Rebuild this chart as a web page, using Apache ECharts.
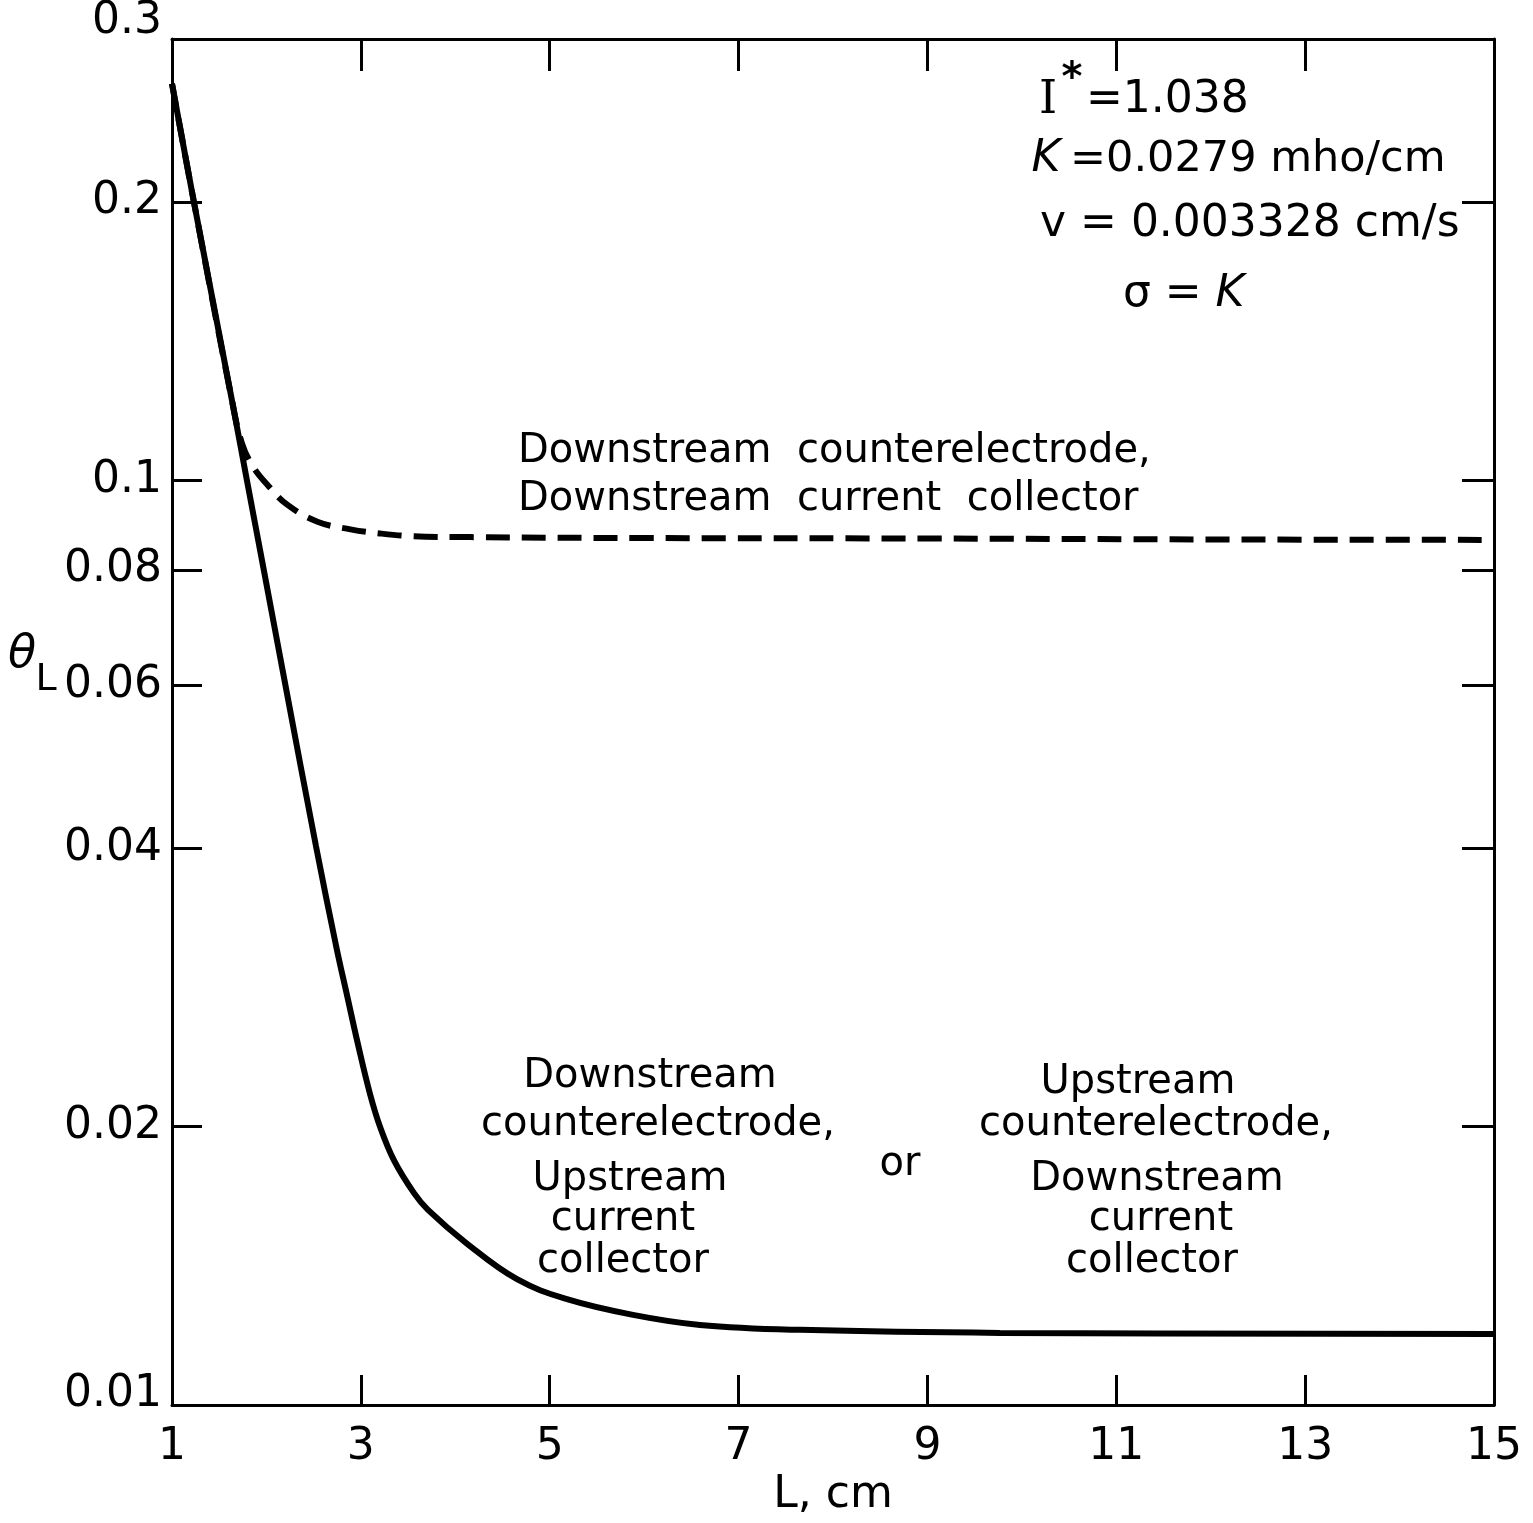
<!DOCTYPE html>
<html>
<head>
<meta charset="utf-8">
<script src="https://cdn.jsdelivr.net/npm/echarts@6/dist/echarts.min.js"></script>
<style>
  html, body { margin: 0; padding: 0; background: #ffffff; }
  #chart { width: 1533px; height: 1523px; }
</style>
</head>
<body>
<div id="chart"></div>
<script>
// Electrode length L (cm) and theta_L for the two configurations
const lengthSolid = [1.000, 1.233, 1.635, 1.794, 1.974, 2.207, 2.525, 2.737, 2.853, 2.970, 3.097, 3.203, 3.351, 3.563, 3.711, 4.113, 4.654, 5.183, 5.882, 6.591, 7.650, 9.768, 15];
const thetaSolid  = [0.2684, 0.1997, 0.1220, 0.0999, 0.0798, 0.0596, 0.0402, 0.0314, 0.02776, 0.02454, 0.02170, 0.02000, 0.01839, 0.01695, 0.01626, 0.01498, 0.01368, 0.01302, 0.01252, 0.01221, 0.01206, 0.01197, 0.01194];

const lengthDashed = [1.000, 1.233, 1.635, 1.74, 1.86, 2.01, 2.22, 2.54, 2.89, 3.20, 3.55, 4.16, 6, 9, 12, 15];
const thetaDashed  = [0.2684, 0.1997, 0.1220, 0.1097, 0.1034, 0.0989, 0.0941, 0.0902, 0.0885, 0.0876, 0.0870, 0.0868, 0.0866, 0.0865, 0.0863, 0.0862];

// Axis ticks and labels
const xLabelValues = [1, 3, 5, 7, 9, 11, 13, 15];
const xTickValues  = [3, 5, 7, 9, 11, 13];
const yLabelValues = [0.01, 0.02, 0.04, 0.06, 0.08, 0.1, 0.2, 0.3];
const yTickValues  = [0.02, 0.04, 0.06, 0.08, 0.1, 0.2];

const FONT = 'DejaVu Sans';
const INK = '#000000';

const chart = echarts.init(document.getElementById('chart'), null, { renderer: 'canvas' });

const frameLine = { show: true, onZero: false, lineStyle: { color: INK, width: 3 } };
const innerTick = (values, len) => ({
  show: true, inside: true, length: len, customValues: values,
  lineStyle: { color: INK, width: 3 }
});

function pairs(xs, ys) { return xs.map((x, i) => [x, ys[i]]); }

// centred text helper for the annotation blocks
function txt(text, x, y, size, font) {
  return {
    type: 'text', x: x, y: y, silent: true,
    style: {
      text: text, fill: INK,
      font: (font || '') + ' ' + size + 'px "' + FONT + '"',
      textAlign: 'center', textVerticalAlign: 'middle'
    }
  };
}
function ltxt(text, x, y, size, font) {
  const t = txt(text, x, y, size, font);
  t.style.textAlign = 'left';
  return t;
}

const option = {
  backgroundColor: '#ffffff',
  animation: false,
  grid: { left: 172, right: 39, top: 35, bottom: 109, containLabel: false },
  xAxis: [
    {
      type: 'value', position: 'bottom', min: 1, max: 15,
      axisLine: frameLine,
      axisTick: innerTick(xTickValues, 30),
      axisLabel: {
        customValues: xLabelValues, margin: 20,
        fontSize: 44, fontFamily: FONT, color: INK
      },
      splitLine: { show: false },
      name: 'L, cm', nameLocation: 'middle', nameGap: 62,
      nameTextStyle: { fontSize: 44, fontFamily: FONT, color: INK }
    },
    {
      type: 'value', position: 'top', min: 1, max: 15,
      axisLine: frameLine,
      axisTick: innerTick(xTickValues, 32),
      axisLabel: { show: false },
      splitLine: { show: false }
    }
  ],
  yAxis: [
    {
      type: 'log', logBase: 10, position: 'left', min: 0.01, max: 0.3,
      axisLine: frameLine,
      axisTick: innerTick(yTickValues, 30),
      minorTick: { show: false },
      axisLabel: {
        customValues: yLabelValues, margin: 10,
        fontSize: 44, fontFamily: FONT, color: INK,
        formatter: function (v) {
          const s = String(+Number(v).toPrecision(3));
          if (s === '0.3') return '{hi|' + s + '}';
          if (s === '0.01') return '{lo|' + s + '}';
          return s;
        },
        rich: {
          hi: { fontSize: 44, fontFamily: FONT, color: INK, padding: [0, 0, 34, 0] },
          lo: { fontSize: 44, fontFamily: FONT, color: INK, padding: [0, 0, 22, 0] }
        }
      },
      splitLine: { show: false }
    },
    {
      type: 'log', logBase: 10, position: 'right', min: 0.01, max: 0.3,
      axisLine: frameLine,
      axisTick: innerTick(yTickValues, 32),
      minorTick: { show: false },
      axisLabel: { show: false },
      splitLine: { show: false }
    }
  ],
  series: [
    {
      name: 'Downstream counterelectrode, upstream current collector',
      type: 'line', xAxisIndex: 0, yAxisIndex: 0,
      data: pairs(lengthSolid, thetaSolid),
      showSymbol: false, smooth: 0.4,
      lineStyle: { color: INK, width: 6 }
    },
    {
      name: 'Downstream counterelectrode, downstream current collector',
      type: 'line', xAxisIndex: 0, yAxisIndex: 0,
      data: pairs(lengthDashed, thetaDashed),
      showSymbol: false, smooth: 0.4,
      lineStyle: { color: INK, width: 6, type: [24, 12] }
    }
  ],
  graphic: [
    // y axis title: theta with subscript L
    txt('θ', 22, 655, 46, 'italic'),
    txt('L', 46, 680, 38),

    // parameter block
    { type: 'text', x: 1048, y: 101, silent: true,
      style: { text: 'I', fill: INK, font: '46px "DejaVu Serif"', textAlign: 'center', textVerticalAlign: 'middle' } },
    { type: 'text', x: 1072, y: 80, silent: true,
      style: { text: '*', fill: INK, font: 'bold 40px "' + FONT + '"', textAlign: 'center', textVerticalAlign: 'middle' } },
    ltxt('=1.038', 1086, 101, 44),

    txt('K', 1046, 160, 44, 'italic'),
    ltxt('=0.0279 mho/cm', 1070, 160, 43),

    ltxt('v = 0.003328 cm/s', 1040, 225, 44),

    ltxt('σ =', 1123, 295, 44),
    txt('K', 1230, 295, 44, 'italic'),

    // dashed curve label
    ltxt('Downstream  counterelectrode,', 518, 452, 40),
    ltxt('Downstream  current  collector', 518, 500, 40),

    // solid curve label, left block
    txt('Downstream', 650, 1077, 40),
    txt('counterelectrode,', 658, 1125, 40),
    txt('Upstream', 630, 1180, 40),
    txt('current', 623, 1220, 40),
    txt('collector', 623, 1262, 40),

    txt('or', 900, 1165, 40),

    // solid curve label, right block
    txt('Upstream', 1138, 1083, 40),
    txt('counterelectrode,', 1156, 1125, 40),
    txt('Downstream', 1157, 1180, 40),
    txt('current', 1161, 1220, 40),
    txt('collector', 1152, 1262, 40)
  ]
};

chart.setOption(option);
</script>
</body>
</html>
